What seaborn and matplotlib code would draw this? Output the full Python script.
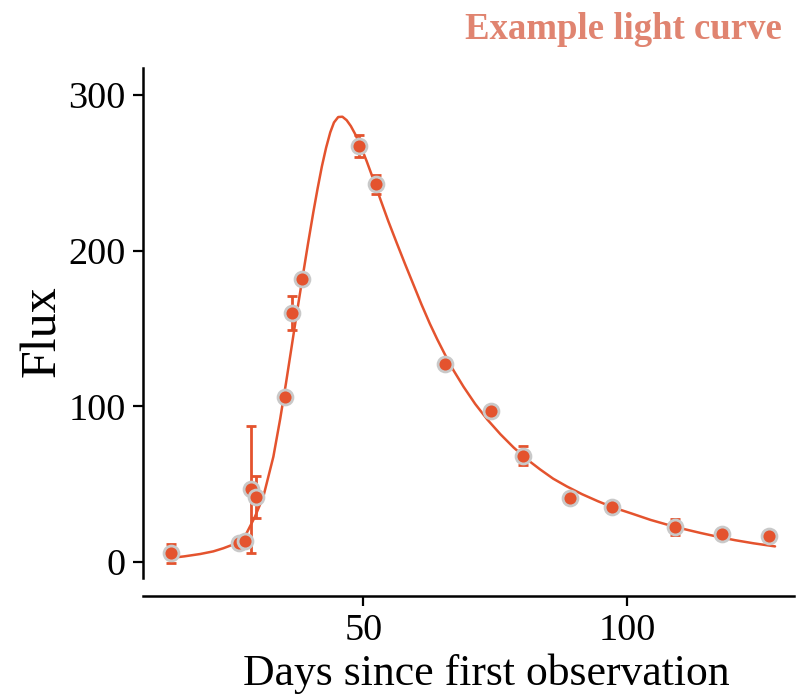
import numpy as np
import pandas as pd
import matplotlib
matplotlib.use("Agg")
import matplotlib.pyplot as plt
import seaborn as sns

# Observed points (days, flux, error)
days = [13.5, 26.3, 27.5, 28.6, 29.6, 35.2, 36.5, 38.4, 49.2, 52.4,
        65.4, 74.2, 80.2, 89.1, 97.2, 109.2, 118.1, 127.0]
flux = [5.6, 12.4, 13.7, 46.6, 41.5, 106.0, 160.0, 182.0, 267.4, 242.6,
        127.0, 97.0, 68.3, 41.3, 35.5, 22.7, 18.0, 16.7]
flux_err = [6.0, 3.0, 3.0, 41.0, 13.4, 3.0, 11.0, 3.0, 7.0, 6.0,
            2.0, 2.0, 5.9, 2.0, 2.0, 5.2, 2.0, 2.0]

# Model curve
curve_days = [13.5, 16.0, 19.0, 21.5, 23.4, 25.9, 27.8, 29.4, 31.0, 32.9,
              34.2, 35.3, 36.4, 37.4, 38.4, 39.5, 40.5, 41.3, 42.1, 42.9,
              43.7, 44.4, 45.2, 46.0, 46.8, 47.6, 48.4, 49.5, 50.6, 51.9,
              53.2, 54.7, 56.3, 57.9, 59.5, 61.0, 62.6, 64.0, 65.5, 67.1,
              69.0, 71.2, 73.5, 76.0, 78.5, 81.0, 83.5, 86.0, 88.6, 91.5,
              94.5, 97.4, 101.0, 104.5, 107.6, 111.0, 114.0, 117.1, 120.5,
              124.0, 128.1]
curve_flux = [2.6, 3.6, 5.1, 6.8, 8.8, 12.0, 18.4, 29.0, 42.0, 67.6,
              92.0, 115.0, 139.0, 161.0, 182.0, 205.0, 225.0, 240.0, 254.0, 266.0,
              276.0, 282.3, 285.8, 286.0, 283.8, 280.0, 275.0, 266.8, 257.5, 245.5,
              233.0, 219.0, 205.0, 191.3, 178.0, 165.5, 153.0, 143.0, 133.0, 123.0,
              112.5, 101.5, 91.5, 82.0, 73.5, 66.0, 59.5, 53.5, 48.5, 43.5,
              39.0, 35.0, 31.0, 27.0, 24.0, 21.0, 18.6, 16.3, 14.0,
              12.0, 10.0]

title_text = "Example light curve"
x_label = "Days since first observation"
y_label = "Flux"

red = "#E4532E"
edge = "#C9C9C9"

sns.set_theme(style="ticks")
plt.rcParams["font.family"] = ["Liberation Serif", "DejaVu Serif"]
plt.rcParams["text.color"] = "black"
plt.rcParams["axes.labelcolor"] = "black"
plt.rcParams["xtick.color"] = "black"
plt.rcParams["ytick.color"] = "black"

fig = plt.figure(figsize=(7.98, 7.0), dpi=100)
ax = fig.add_axes([143 / 798, 1 - 578 / 700, (794 - 143) / 798, (578 - 68) / 700])

pts = pd.DataFrame({"days": days, "flux": flux, "err": flux_err})
curve = pd.DataFrame({"days": curve_days, "flux": curve_flux})

sns.lineplot(data=curve, x="days", y="flux", color=red, linewidth=1.8,
             ax=ax, zorder=2, sort=False)
ax.errorbar(pts["days"], pts["flux"], yerr=pts["err"], fmt="none",
            ecolor=red, elinewidth=2.0, capsize=3.5, capthick=2.0, zorder=3)
sns.scatterplot(data=pts, x="days", y="flux", color=red, s=115,
                edgecolor=edge, linewidth=2.0, ax=ax, zorder=4)

ax.set_xlim(8.16, 131.7)
ax.set_ylim(-10.3, 317.3)
ax.set_xticks([50, 100])
ax.set_yticks([0, 100, 200, 300])

ax.set_xlabel(x_label, fontsize=31.5)
ax.set_ylabel(y_label, fontsize=36)
ax.xaxis.set_label_coords(0.527, -0.148)
ax.yaxis.set_label_coords(-0.118, 0.484)
ax.tick_params(axis="both", labelsize=27.5, length=7.5, width=1.6, color="black",
               pad=5)
for s in ["left", "bottom"]:
    ax.spines[s].set_linewidth(1.8)
    ax.spines[s].set_color("black")
sns.despine(ax=ax, offset={"left": 0, "bottom": 13})

fig.text(782 / 798, 1 - 12 / 700, title_text, ha="right", va="top",
         fontsize=26.5, fontweight="bold", color="#E08470")

fig.savefig("out.png", dpi=100)
